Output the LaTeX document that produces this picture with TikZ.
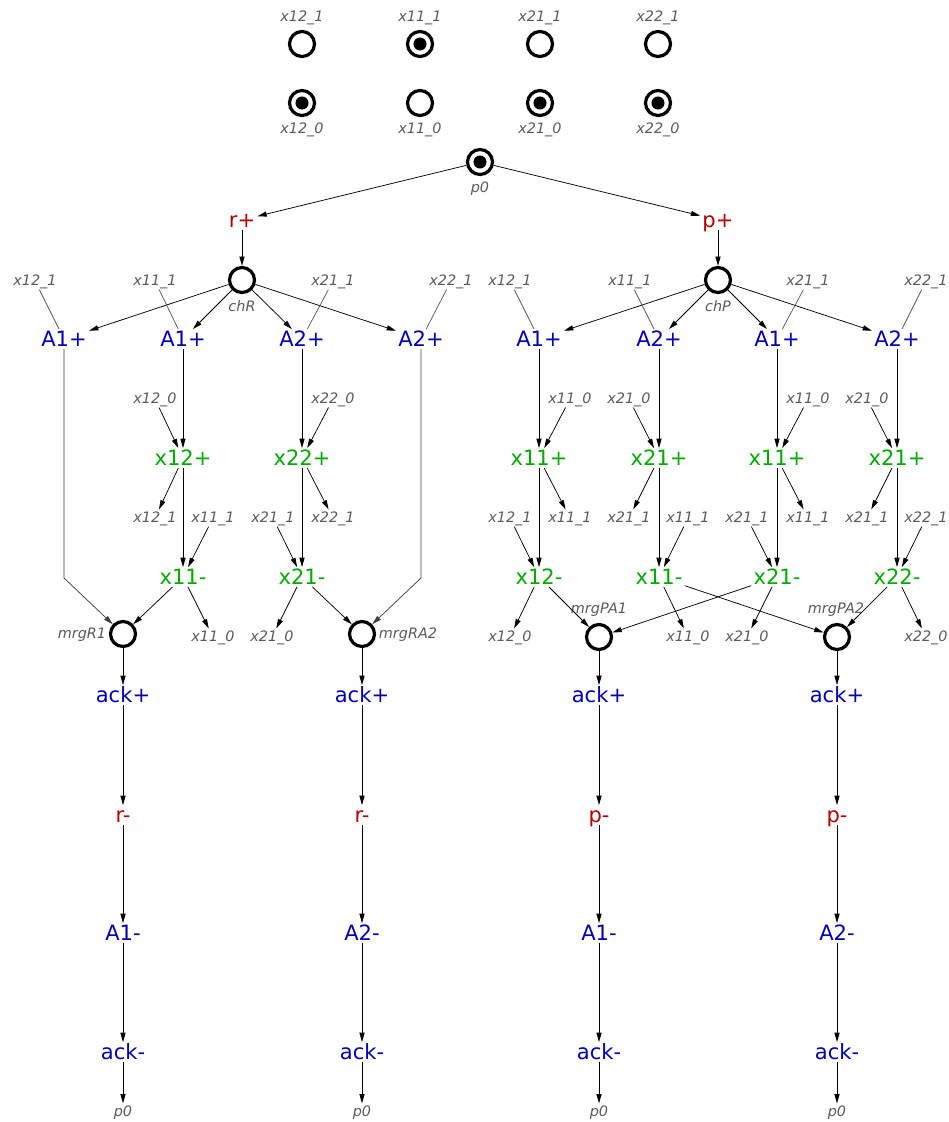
\documentclass[tikz,border=0pt]{standalone}
\usepackage{fontspec}
\setmainfont{DejaVu Sans}[ItalicFont={DejaVu Sans Oblique}]
\usetikzlibrary{arrows.meta}
\definecolor{tred}{RGB}{180,0,0}
\definecolor{tblue}{RGB}{0,0,180}
\definecolor{tgreen}{RGB}{0,170,0}
\definecolor{lgray}{RGB}{90,90,90}
\newcommand\trfont{\fontsize{15.8}{18}\selectfont}
\newcommand\lbfont{\fontsize{10.8}{13}\selectfont\itshape}

\begin{document}
\begin{tikzpicture}[x=0.75pt,y=-0.75pt,
  tr/.style={font=\trfont, inner sep=1.5pt, text height=11.5pt, text depth=0pt},
  trr/.style={tr, text=tred},
  trb/.style={tr, text=tblue},
  trg/.style={tr, text=tgreen},
  lab/.style={font=\lbfont, text=lgray, inner sep=1.5pt, text height=8pt, text depth=1.5pt},
  place/.style={circle, draw, line width=2.4pt, minimum size=18.75pt, inner sep=0pt},
  marked/.style={place, path picture={\fill (path picture bounding box.center) circle (4.9pt);}},
  arc/.style={-{Triangle[length=7pt,width=3.8pt]}, line width=0.55pt},
  rd/.style={line width=0.55pt, draw=black!65},
]
\useasboundingbox (0,0) rectangle (949,1122);
\clip (0,0) rectangle (949,1122);

% ---- initial places ----
\node[place]  (a121) at (302,44)  {};
\node[marked] (a111) at (420,44)  {};
\node[place]  (a211) at (540,44)  {};
\node[place]  (a221) at (658,44)  {};
\node[lab] (la121) at (302,17) {x12\_1};
\node[lab] (la111) at (420,17) {x11\_1};
\node[lab] (la211) at (540,17) {x21\_1};
\node[lab] (la221) at (658,17) {x22\_1};
\node[marked] (a120) at (302,103) {};
\node[place]  (a110) at (420,103) {};
\node[marked] (a210) at (540,103) {};
\node[marked] (a220) at (658,103) {};
\node[lab] (la120) at (302,129) {x12\_0};
\node[lab] (la110) at (420,129) {x11\_0};
\node[lab] (la210) at (540,129) {x21\_0};
\node[lab] (la220) at (658,129) {x22\_0};
\node[marked] (pz) at (480,162) {};
\node[lab] (lpz) at (480,188) {p0};

% ---- request / pass ----
\node[trr] (rp) at (242,220) {r+};
\node[trr] (pp) at (718,220) {p+};
\draw[arc] (pz) -- (rp);
\draw[arc] (pz) -- (pp);
\node[place] (chR) at (242,280) {};
\node[place] (chP) at (718,280) {};
\node[lab] at (242,307) {chR};
\node[lab] at (718,307) {chP};
\draw[arc] (rp) -- (chR);
\draw[arc] (pp) -- (chP);

% ---- left branch ----
\node[trb] (L1) at (64,339)  {A1+};
\node[trb] (L2) at (183,339) {A1+};
\node[trb] (L3) at (302,339) {A2+};
\node[trb] (L4) at (421,339) {A2+};
\foreach \t in {L1,L2,L3,L4} \draw[arc] (chR) -- (\t);
\node[lab] (rL1) at (35,281)  {x12\_1};
\node[lab] (rL2) at (155,281) {x11\_1};
\node[lab] (rL3) at (333,281) {x21\_1};
\node[lab] (rL4) at (451,281) {x22\_1};
\draw[rd] (rL1) -- (L1);
\draw[rd] (rL2) -- (L2);
\draw[rd] (rL3) -- (L3);
\draw[rd] (rL4) -- (L4);

\node[lab] (qL2) at (155,399) {x12\_0};
\node[lab] (qL3) at (333,399) {x22\_0};
\node[trg] (PL2) at (183,458) {x12+};
\node[trg] (PL3) at (302,458) {x22+};
\draw[arc] (L2) -- (PL2);
\draw[arc] (L3) -- (PL3);
\draw[arc] (qL2) -- (PL2);
\draw[arc] (qL3) -- (PL3);

\node[lab] (sL2a) at (155,518) {x12\_1};
\node[lab] (sL2b) at (213,518) {x11\_1};
\node[lab] (sL3a) at (273,518) {x21\_1};
\node[lab] (sL3b) at (333,518) {x22\_1};
\node[trg] (ML2) at (183,577) {x11-};
\node[trg] (ML3) at (302,577) {x21-};
\draw[arc] (PL2) -- (sL2a);
\draw[arc] (PL3) -- (sL3b);
\draw[arc] (PL2) -- (ML2);
\draw[arc] (PL3) -- (ML3);
\draw[arc] (sL2b) -- (ML2);
\draw[arc] (sL3a) -- (ML3);

\node[lab] (uL2) at (213,637) {x11\_0};
\node[lab] (uL3) at (272,637) {x21\_0};
\draw[arc] (ML2) -- (uL2);
\draw[arc] (ML3) -- (uL3);

% ---- right branch ----
\node[trb] (R1) at (539,339) {A1+};
\node[trb] (R2) at (659,339) {A2+};
\node[trb] (R3) at (777,339) {A1+};
\node[trb] (R4) at (897,339) {A2+};
\foreach \t in {R1,R2,R3,R4} \draw[arc] (chP) -- (\t);
\node[lab] (rR1) at (510,281) {x12\_1};
\node[lab] (rR2) at (630,281) {x11\_1};
\node[lab] (rR3) at (808,281) {x21\_1};
\node[lab] (rR4) at (926,281) {x22\_1};
\draw[rd] (rR1) -- (R1);
\draw[rd] (rR2) -- (R2);
\draw[rd] (rR3) -- (R3);
\draw[rd] (rR4) -- (R4);

\node[lab] (qR1) at (570,399) {x11\_0};
\node[lab] (qR2) at (629,399) {x21\_0};
\node[lab] (qR3) at (808,399) {x11\_0};
\node[lab] (qR4) at (867,399) {x21\_0};
\node[trg] (PR1) at (539,458) {x11+};
\node[trg] (PR2) at (659,458) {x21+};
\node[trg] (PR3) at (777,458) {x11+};
\node[trg] (PR4) at (897,458) {x21+};
\draw[arc] (R1) -- (PR1);
\draw[arc] (R2) -- (PR2);
\draw[arc] (R3) -- (PR3);
\draw[arc] (R4) -- (PR4);
\draw[arc] (qR1) -- (PR1);
\draw[arc] (qR2) -- (PR2);
\draw[arc] (qR3) -- (PR3);
\draw[arc] (qR4) -- (PR4);

\node[lab] (sR1a) at (510,518) {x12\_1};
\node[lab] (sR1b) at (570,518) {x11\_1};
\node[lab] (sR2a) at (629,518) {x21\_1};
\node[lab] (sR2b) at (688,518) {x11\_1};
\node[lab] (sR3a) at (747,518) {x21\_1};
\node[lab] (sR3b) at (808,518) {x11\_1};
\node[lab] (sR4a) at (867,518) {x21\_1};
\node[lab] (sR4b) at (926,518) {x22\_1};
\node[trg] (MR1) at (539,577) {x12-};
\node[trg] (MR2) at (659,577) {x11-};
\node[trg] (MR3) at (777,577) {x21-};
\node[trg] (MR4) at (897,577) {x22-};
\draw[arc] (PR1) -- (sR1b);
\draw[arc] (PR2) -- (sR2a);
\draw[arc] (PR3) -- (sR3b);
\draw[arc] (PR4) -- (sR4a);
\draw[arc] (PR1) -- (MR1);
\draw[arc] (PR2) -- (MR2);
\draw[arc] (PR3) -- (MR3);
\draw[arc] (PR4) -- (MR4);
\draw[arc] (sR1a) -- (MR1);
\draw[arc] (sR2b) -- (MR2);
\draw[arc] (sR3a) -- (MR3);
\draw[arc] (sR4b) -- (MR4);

\node[lab] (uR1) at (510,637) {x12\_0};
\node[lab] (uR2) at (688,637) {x11\_0};
\node[lab] (uR3) at (747,637) {x21\_0};
\node[lab] (uR4) at (926,637) {x22\_0};
\draw[arc] (MR1) -- (uR1);
\draw[arc] (MR2) -- (uR2);
\draw[arc] (MR3) -- (uR3);
\draw[arc] (MR4) -- (uR4);

% ---- merge places ----
\node[place] (mR1)  at (123,634) {};
\node[place] (mRA2) at (362,634) {};
\node[place] (mPA1) at (599,637) {};
\node[place] (mPA2) at (837,637) {};
\node[lab] at (82,634)  {mrgR1};
\node[lab] at (408,634) {mrgRA2};
\node[lab] at (599,609) {mrgPA1};
\node[lab] at (836,609) {mrgPA2};

\coordinate (bL) at (64,578);
\coordinate (bR) at (421,578);
\draw[arc, draw=black!75] (L1) -- (bL) -- (mR1);
\draw[arc, draw=black!75] (L4) -- (bR) -- (mRA2);
\draw[arc] (ML2) -- (mR1);
\draw[arc] (ML3) -- (mRA2);
\draw[arc] (MR1) -- (mPA1);
\draw[arc] (MR3) -- (mPA1);
\draw[arc] (MR2) -- (mPA2);
\draw[arc] (MR4) -- (mPA2);

% ---- acknowledge chains ----
\foreach \i/\x/\m/\a/\g in {1/123/r-/A1-/mR1, 2/362/r-/A2-/mRA2, 3/599/p-/A1-/mPA1, 4/837/p-/A2-/mPA2} {
  \node[trb] (ka\i) at (\x,695)  {ack+};
  \node[trr] (kb\i) at (\x,815)  {\m};
  \node[trb] (kc\i) at (\x,933)  {\a};
  \node[trb] (kd\i) at (\x,1052) {ack-};
  \node[lab] (ke\i) at (\x,1112) {p0};
  \draw[arc] (\g) -- (ka\i);
  \draw[arc] (ka\i) -- (kb\i);
  \draw[arc] (kb\i) -- (kc\i);
  \draw[arc] (kc\i) -- (kd\i);
  \draw[arc] (kd\i) -- (ke\i);
}
\end{tikzpicture}
\end{document}
